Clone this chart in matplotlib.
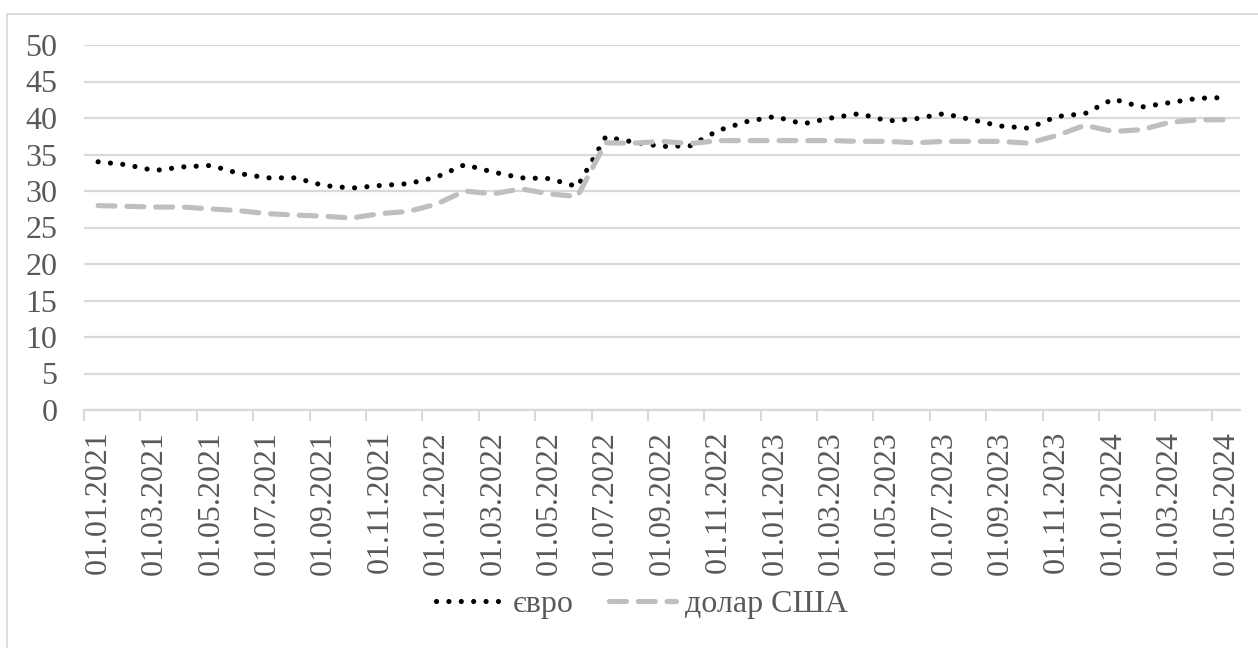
import matplotlib
matplotlib.use("Agg")
import matplotlib.pyplot as plt
from matplotlib.patches import Rectangle

# Monthly exchange rates, UAH per unit (01.01.2021 – 01.05.2024)
dates = [f"01.{m:02d}.{y}" for y in (2021, 2022, 2023, 2024)
         for m in range(1, 13)][:41]

euro = [34.0, 33.6, 32.8, 33.3, 33.5, 32.4, 31.8, 31.8, 30.75, 30.4,
        30.75, 31.0, 31.9, 33.6, 32.6, 31.8, 31.7, 30.6, 37.4, 36.7,
        36.1, 36.2, 38.3, 39.5, 40.2, 39.2, 40.0, 40.6, 39.6, 39.9,
        40.6, 39.75, 38.9, 38.6, 40.2, 40.6, 42.6, 41.5, 42.1, 42.7,
        42.8]

usd = [28.0, 27.9, 27.8, 27.8, 27.55, 27.3, 26.9, 26.7, 26.55, 26.3,
       26.9, 27.2, 28.2, 30.0, 29.6, 30.3, 29.6, 29.25, 36.6, 36.55,
       36.8, 36.5, 36.9, 36.9, 36.9, 36.9, 36.9, 36.8, 36.8, 36.6,
       36.8, 36.8, 36.8, 36.55, 37.6, 39.0, 38.15, 38.4, 39.4, 39.75,
       39.75]

y_ticks = list(range(0, 51, 5))
series_labels = ["євро", "долар США"]

W, H = 1258, 648
fig = plt.figure(figsize=(W / 100, H / 100), dpi=100)
plt.rcParams["font.family"] = ["Liberation Serif", "DejaVu Serif"]

text_color = "#595959"
grid_color = "#d9d9d9"
fs = 23

# outer chart frame
fig.patches.append(Rectangle((7 / W, 1 - 700 / H), 1300 / W, (700 - 14) / H,
                             transform=fig.transFigure, fill=False,
                             edgecolor=grid_color, linewidth=1.3))

ax = fig.add_axes([84 / W, 1 - 410 / H, (1240 - 84) / W, (410 - 45) / H])

x = list(range(len(dates)))
ax.plot(x, euro, color="black", linewidth=3.7,
        linestyle=(0, (0.01, 2.4)), dash_capstyle="round",
        label=series_labels[0])
ax.plot(x, usd, color="#bfbfbf", linewidth=3.7,
        linestyle=(0, (3.3, 2.3)), dash_capstyle="round",
        label=series_labels[1])

ax.set_xlim(-0.5, len(dates) - 0.5)
ax.set_ylim(0, 50)

ax.set_yticks(y_ticks)
ax.set_yticklabels([str(v) for v in y_ticks], fontsize=fs, color=text_color)
ax.tick_params(axis="y", length=0, pad=19)
ax.yaxis.grid(True, color=grid_color, linewidth=1.6)
ax.set_axisbelow(True)

# category labels every second month, tick marks between categories
ax.set_xticks(x[::2])
ax.set_xticklabels(dates[::2], rotation=90, fontsize=fs, color=text_color,
                   va="top", ha="center")
ax.set_xticks([i - 0.5 for i in range(0, len(dates) + 1, 2)], minor=True)
ax.tick_params(axis="x", which="major", length=0, pad=15)
ax.tick_params(axis="x", which="minor", length=8, width=1.5, color=grid_color)

for side in ("top", "right", "left"):
    ax.spines[side].set_visible(False)
ax.spines["bottom"].set_color(grid_color)
ax.spines["bottom"].set_linewidth(1.6)

leg = fig.legend(loc="center", bbox_to_anchor=(642 / W, 1 - 604 / H), ncol=2,
                 frameon=False, fontsize=fs, handlelength=2.1,
                 columnspacing=1.1, handletextpad=0.3)
for t in leg.get_texts():
    t.set_color(text_color)

fig.savefig("out.png", dpi=100, facecolor="white")
